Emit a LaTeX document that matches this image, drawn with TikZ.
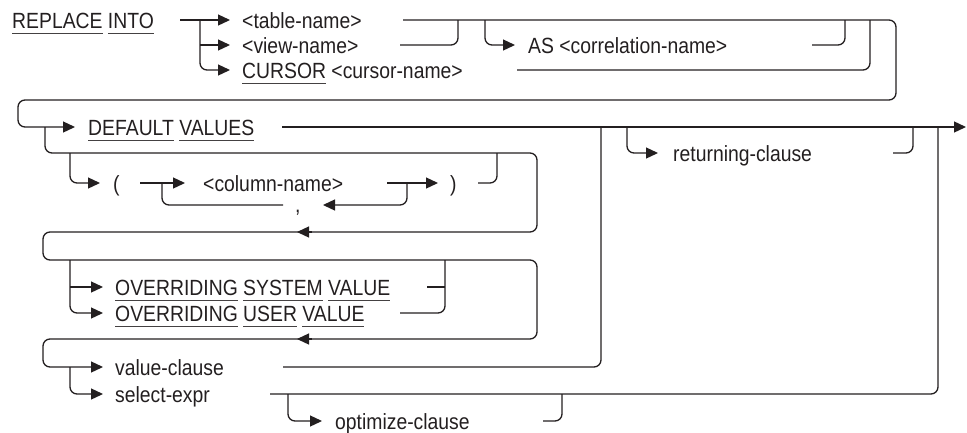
\documentclass[tikz,border=0pt]{standalone}
\usepackage{fontspec}
\setmainfont[FakeStretch=0.88]{Liberation Sans}
\usetikzlibrary{arrows.meta}
\definecolor{ink}{RGB}{35,31,32}
\newcommand\kw[1]{\setbox0=\hbox{#1}\rlap{\color{ink!85}\rule[-6pt]{\wd0}{0.9pt}}\box0\relax}
\tikzset{
  rr/.style={line width=1.3pt, draw=ink, rounded corners=7pt},
  arr/.style={rr, -{Triangle[length=12pt,width=11pt]}},
  txt/.style={anchor=base west, inner sep=0pt, text=ink, font=\fontsize{22}{24}\selectfont},
}
\begin{document}
\begin{tikzpicture}[x=1pt,y=-1pt]
\useasboundingbox (0,0) rectangle (967,432);
% ---------- texts
\node[txt] (rep)   at (12,28)   {\kw{REPLACE} \kw{INTO}};
\node[txt] (tbl)   at (242,28)  {<table-name>};
\node[txt] (view)  at (242,53)  {<view-name>};
\node[txt] (cur)   at (242,78)  {\kw{CURSOR} <cursor-name>};
\node[txt] (as)    at (528,53)  {AS <correlation-name>};
\node[txt] (dv)    at (88,135)  {\kw{DEFAULT} \kw{VALUES}};
\node[txt] (lp)    at (113,191) {(};
\node[txt] (col)   at (203,191) {<column-name>};
\node[txt] (rp)    at (450,191) {)};
\node[txt] (comma) at (295,212) {,};
\node[txt] (ovs)   at (115,295) {\kw{OVERRIDING} \kw{SYSTEM} \kw{VALUE}};
\node[txt] (ovu)   at (115,321) {\kw{OVERRIDING} \kw{USER} \kw{VALUE}};
\node[txt] (vc)    at (115,375) {value-clause};
\node[txt] (se)    at (115,402) {select-expr};
\node[txt] (oc)    at (335,429) {optimize-clause};
\node[txt] (rc)    at (673,161) {returning-clause};
% ---------- coordinates
\coordinate (start) at (180,20);
\coordinate (brA) at (200,20);  \coordinate (brB) at (200,45);
\coordinate (tA) at (230,20);   \coordinate (tB) at (230,45);  \coordinate (tC) at (230,70);
\coordinate (tblE) at (403,20); \coordinate (cR) at (896,20);  \coordinate (cRb) at (896,100);
\coordinate (cL) at (18,100);   \coordinate (cLb) at (18,127); \coordinate (dvA) at (75,127);
\coordinate (viewE) at (400,45); \coordinate (viewJ) at (458,20);
\coordinate (asB) at (485,20);  \coordinate (asA) at (515,45);
\coordinate (asE) at (812,45);  \coordinate (asJ) at (845,20);
\coordinate (curE) at (517,70); \coordinate (curJ) at (870,20);
\coordinate (dvE) at (282,127); \coordinate (fin) at (966,127);
% column list box
\coordinate (cbB) at (45,127);  \coordinate (cbT) at (537,153); \coordinate (cbR) at (537,232);
\coordinate (l2a) at (43,232);  \coordinate (l2b) at (43,260);  \coordinate (obT) at (537,260);
\coordinate (obR) at (537,339); \coordinate (l3a) at (43,339);  \coordinate (l3b) at (43,367);
\coordinate (vcA) at (103,367);
\coordinate (rA1) at (312,232); \coordinate (rA1t) at (297,232);
\coordinate (rA2) at (312,339); \coordinate (rA2t) at (297,339);
\coordinate (lpB) at (70,153);  \coordinate (lpA) at (100,183);
\coordinate (lpE) at (140,183); \coordinate (colA) at (185,183);
\coordinate (loopL) at (162,183); \coordinate (cmE) at (283,205);
\coordinate (colE) at (387,183); \coordinate (rpA) at (438,183);
\coordinate (loopR) at (407,183); \coordinate (cmA) at (323,205);
\coordinate (rpE) at (478,183); \coordinate (rpJ) at (497,153);
% overriding
\coordinate (ovB) at (70,260);  \coordinate (ovsA) at (103,287); \coordinate (ovuA) at (103,313);
\coordinate (ovM) at (70,287);
\coordinate (ovsE) at (427,287); \coordinate (ovsJ) at (445,287);
\coordinate (ovuE) at (400,313); \coordinate (ovJ) at (445,260);
% value / select
\coordinate (vsB) at (70,367);  \coordinate (seA) at (103,394);
\coordinate (vcE) at (283,367); \coordinate (vcJ) at (601,127);
\coordinate (seE) at (270,394); \coordinate (seJ) at (938,127);
\coordinate (ocB) at (288,394); \coordinate (ocA) at (322,421);
\coordinate (ocE) at (543,421); \coordinate (ocJ) at (562,394);
% returning
\coordinate (rcB) at (627,127); \coordinate (rcA) at (658,153);
\coordinate (rcE) at (893,153); \coordinate (rcJ) at (913,127);
% ---------- connectors
\draw[arr] (start) -- (tA);
\draw[arr] (brA) |- (tC);
\draw[arr] (brB) -- (tB);
\draw[arr] (tblE) -- (cR) -- (cRb) -- (cL) -- (cLb) -- (dvA);
\draw[rr] (viewE) -| (viewJ);
\draw[arr] (asB) |- (asA);
\draw[rr] (asE) -| (asJ);
\draw[rr] (curE) -| (curJ);
\draw[arr] (dvE) -- (fin);
\draw[arr] (cbB) |- (cbT) -- (cbR) -- (l2a) -- (l2b) -- (obT) -- (obR) -- (l3a) -- (l3b) -- (vcA);
\draw[arr] (rA1) -- (rA1t);
\draw[arr] (rA2) -- (rA2t);
\draw[arr] (lpB) |- (lpA);
\draw[arr] (lpE) -- (colA);
\draw[rr] (cmE) -| (loopL);
\draw[arr] (colE) -- (rpA);
\draw[arr] (loopR) |- (cmA);
\draw[rr] (rpE) -| (rpJ);
\draw[arr] (ovB) |- (ovuA);
\draw[arr] (ovM) -- (ovsA);
\draw[rr] (ovsE) -- (ovsJ);
\draw[rr] (ovuE) -| (ovJ);
\draw[arr] (vsB) |- (seA);
\draw[rr] (vcE) -| (vcJ);
\draw[rr] (seE) -| (seJ);
\draw[arr] (ocB) |- (ocA);
\draw[rr] (ocE) -| (ocJ);
\draw[arr] (rcB) |- (rcA);
\draw[rr] (rcE) -| (rcJ);
\end{tikzpicture}
\end{document}
